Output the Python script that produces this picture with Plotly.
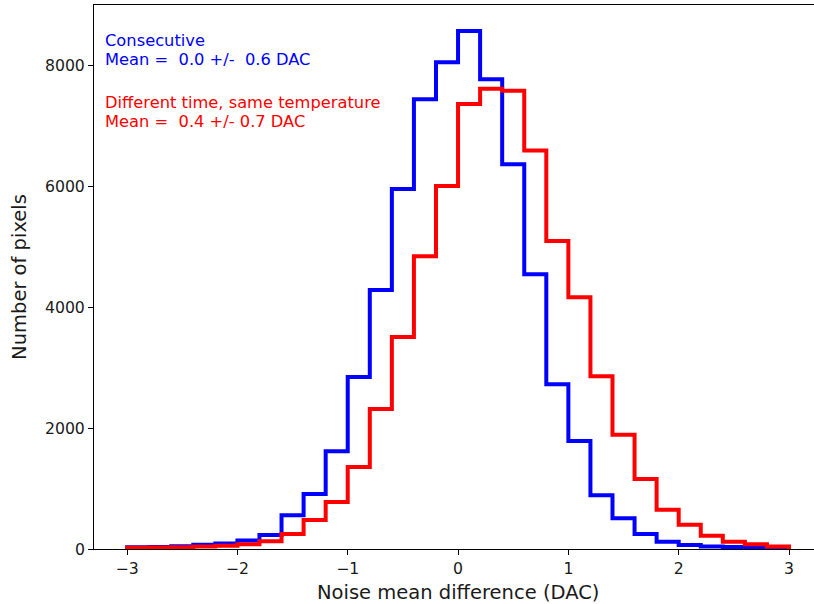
import plotly.graph_objects as go

bin_edges = [round(-3.0 + 0.2 * i, 1) for i in range(31)]

consecutive_counts = [30, 35, 45, 70, 90, 140, 230, 560, 910, 1620,
                      2850, 4290, 5960, 7450, 8060, 8580, 7780, 6370, 4550, 2730,
                      1790, 890, 510, 250, 120, 65, 40, 35, 25, 10]
diff_time_counts = [20, 25, 30, 40, 55, 80, 130, 250, 480, 780,
                    1360, 2320, 3510, 4850, 6010, 7370, 7620, 7590, 6600, 5100,
                    4170, 2860, 1890, 1160, 650, 400, 220, 120, 80, 40]

x_ticks = [-3, -2, -1, 0, 1, 2, 3]
x_tick_text = ["\u22123", "\u22122", "\u22121", "0", "1", "2", "3"]
y_ticks = [0, 2000, 4000, 6000, 8000]

label_blue = ["Consecutive", "Mean =\u00a0\u00a00.0 +/-\u00a0\u00a00.6 DAC"]
label_red = ["Different time, same temperature", "Mean =\u00a0\u00a00.4 +/- 0.7 DAC"]


def step_xy(edges, counts):
    xs = [edges[0]] + list(edges) + [edges[-1]]
    ys = [0] + list(counts) + [counts[-1], 0]
    return xs, ys


fig = go.Figure()
for counts, color in [(consecutive_counts, "#0000ff"), (diff_time_counts, "#ff0000")]:
    xs, ys = step_xy(bin_edges, counts)
    fig.add_trace(go.Scatter(x=xs, y=ys, mode="lines", line=dict(color=color, width=4, shape="hv"),
                             showlegend=False, hoverinfo="skip"))

ymax = max(max(consecutive_counts), max(diff_time_counts)) * 1.05
W, H = 814, 604
ml, mt, mb = 94, 5, 55
x_lo = -3.3
px_per_unit = 662 / 6.0
x_hi = (W - 458) / px_per_unit

TXT = "#1a1a1a"
fig.update_layout(
    width=W, height=H,
    margin=dict(l=ml, r=0, t=mt, b=mb),
    paper_bgcolor="white", plot_bgcolor="white",
    font=dict(family="DejaVu Sans", size=15.7, color=TXT),
    xaxis=dict(range=[x_lo, x_hi], tickvals=x_ticks, ticktext=x_tick_text,
               showgrid=False, zeroline=False, showline=True, linecolor="black", linewidth=1,
               mirror=True, ticks="outside", ticklen=5, tickcolor="black",
               tickfont=dict(size=15.7, color=TXT)),
    yaxis=dict(range=[0, ymax], tickvals=y_ticks, showgrid=False, zeroline=False,
               showline=True, linecolor="black", linewidth=1, ticks="outside", ticklen=5,
               tickcolor="black", tickfont=dict(size=15.7, color=TXT),
               title=dict(text="Number of pixels", font=dict(size=19.5, color=TXT), standoff=13)),
)

plot_w = W - ml
plot_h = H - mt - mb


def py(pix):
    return 1 - (pix - mt) / plot_h


fig.add_annotation(text="Noise mean difference (DAC)", x=0, xref="x",
                   y=-(579 - (H - mb)) / plot_h, yref="paper", yanchor="top",
                   showarrow=False, font=dict(size=19.5, color=TXT))

for lines, color, centers in [(label_blue, "#0000ff", [40, 59.5]),
                              (label_red, "#ff0000", [102, 121])]:
    for line, cy in zip(lines, centers):
        fig.add_annotation(text=line, x=(103 - ml) / plot_w, xref="paper", y=py(cy), yref="paper",
                           showarrow=False, align="left", xanchor="left", yanchor="middle",
                           font=dict(size=16.3, color=color))

fig.write_html("out.html")
